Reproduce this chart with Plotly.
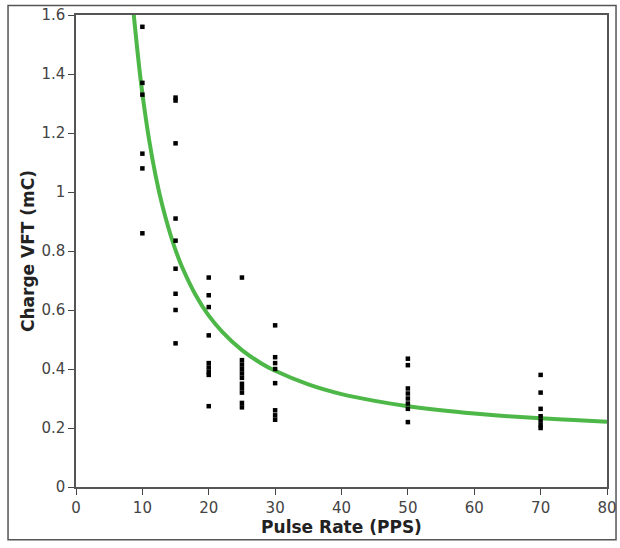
import plotly.graph_objects as go

# Measured data points (Pulse Rate in PPS, Charge VFT in mC)
pts_10 = [1.56, 1.37, 1.33, 1.13, 1.08, 0.86]
pts_15 = [1.32, 1.31, 1.165, 0.91, 0.835, 0.74, 0.655, 0.60, 0.487]
pts_20 = [0.71, 0.65, 0.61, 0.514, 0.42, 0.405, 0.39, 0.38, 0.274]
pts_25 = [0.71, 0.43, 0.415, 0.40, 0.385, 0.37, 0.35, 0.335, 0.32, 0.285, 0.27]
pts_30 = [0.548, 0.44, 0.42, 0.40, 0.352, 0.26, 0.243, 0.228]
pts_50 = [0.435, 0.413, 0.334, 0.317, 0.30, 0.283, 0.265, 0.22]
pts_70 = [0.38, 0.32, 0.265, 0.24, 0.225, 0.21, 0.20]

rates = [10, 15, 20, 25, 30, 50, 70]
groups = [pts_10, pts_15, pts_20, pts_25, pts_30, pts_50, pts_70]

# Fitted curve
curve_x = [8.6, 8.75, 9.5, 10, 11, 12, 13, 14, 15, 16, 18, 20, 22, 25, 28, 30,
           35, 40, 45, 50, 55, 60, 65, 70, 75, 80]
curve_y = [1.63, 1.59, 1.427, 1.334, 1.179, 1.055, 0.955, 0.873, 0.803, 0.745,
           0.652, 0.581, 0.527, 0.464, 0.418, 0.394, 0.348, 0.315, 0.292, 0.274,
           0.26, 0.249, 0.24, 0.233, 0.227, 0.221]

x_ticks = [0, 10, 20, 30, 40, 50, 60, 70, 80]
y_ticks = [0, 0.2, 0.4, 0.6, 0.8, 1, 1.2, 1.4, 1.6]
y_tick_labels = ["0", "0.2", "0.4", "0.6", "0.8", "1", "1.2", "1.4", "1.6"]

xs, ys = [], []
for r, g in zip(rates, groups):
    xs += [r] * len(g)
    ys += g

fig = go.Figure()
fig.add_trace(go.Scatter(
    x=curve_x, y=curve_y, mode="lines",
    line=dict(color="#4db848", width=4, shape="spline"),
    hoverinfo="skip", showlegend=False))
fig.add_trace(go.Scatter(
    x=xs, y=ys, mode="markers",
    marker=dict(symbol="square", size=4.5, color="black"),
    showlegend=False))

font_family = "DejaVu Sans"
fig.update_layout(
    width=620, height=548,
    margin=dict(l=76, r=13, t=15, b=61),
    paper_bgcolor="white", plot_bgcolor="white",
    font=dict(family=font_family, color="#333", size=15),
    xaxis=dict(range=[0, 80], tickvals=x_ticks, ticks="outside", ticklen=6,
               tickcolor="#444", showline=True, linecolor="#555", linewidth=1.5,
               mirror=True, showgrid=False, zeroline=False, automargin="bottom",
               tickfont=dict(size=15, color="#444"),
               title=dict(text="<b>Pulse Rate (PPS)</b>", standoff=4,
                          font=dict(size=17, color="#222"))),
    yaxis=dict(range=[0, 1.6], tickvals=y_ticks, ticktext=y_tick_labels,
               ticks="outside", ticklen=6, tickcolor="#444",
               showline=True, linecolor="#555", linewidth=1.5, mirror=True,
               showgrid=False, zeroline=False, automargin="left",
               tickfont=dict(size=15, color="#444"),
               title=dict(text="<b>Charge VFT (mC)</b>", standoff=2,
                          font=dict(size=17, color="#222"))),
    shapes=[dict(type="rect", xref="paper", yref="paper",
                 x0=-0.128, x1=1.017, y0=-0.112, y1=1.02,
                 line=dict(color="#555", width=1.5), layer="below")],
)

fig.write_html("out.html", config={"displayModeBar": False},
               post_script="document.body.style.margin='0';"
                           "document.body.style.overflow='hidden';")
